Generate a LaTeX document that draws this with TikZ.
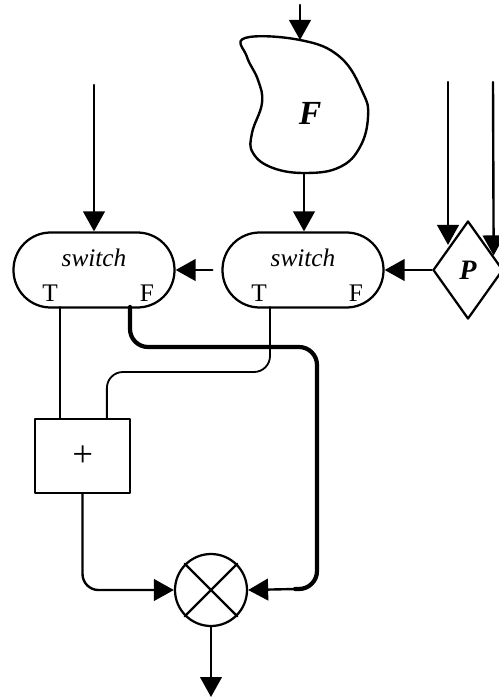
\documentclass[tikz,border=0pt]{standalone}
\usepackage{fontspec}
\setmainfont{Liberation Serif}
\usetikzlibrary{arrows.meta,shapes.geometric,calc}

\begin{document}
\begin{tikzpicture}[x=.25mm,y=-.25mm,line join=round,line cap=round,
  arr/.style={line width=1.7pt,-{Triangle[length=5mm,width=5.4mm]}},
  wire/.style={line width=1.3pt},
  fatwire/.style={line width=3pt},
  swbox/.style={draw,line width=1.6pt,minimum width=40.25mm,minimum height=18.75mm,rounded corners=9.3mm},
  swtext/.style={font=\fontsize{18}{20}\selectfont\itshape,inner sep=0pt},
  tf/.style={font=\fontsize{18}{20}\selectfont,inner sep=0pt}]
  \useasboundingbox (0,0) rectangle (498,700);
  \def\switchnode#1#2{%
    \node[swbox] (#1) at (#2,270) {};
    \node[swtext] (#1name) at (#2,258) {switch};
    \node[tf] (#1T) at (#2-44,293) {T};
    \node[tf] (#1F) at (#2+53,293) {F};
  }
  \switchnode{swA}{94}
  \switchnode{swB}{303}
  % the F block
  \draw[line width=1.7pt] plot[smooth cycle,tension=.7] coordinates {
    (245,38) (300,40) (340,57) (363,93) (368,117) (360,147) (340,167)
    (307,173) (273,168) (253,153) (252,133) (262,103) (258,80) (247,57)};
  \node[font=\fontsize{24}{26}\selectfont\bfseries\itshape] (Flabel) at (310,113) {F};
  \coordinate (Ftop) at (300,40);
  \coordinate (Fbot) at (304,173);
  \node[draw,diamond,line width=1.6pt,aspect=.7,minimum width=17.5mm,minimum height=24.5mm,
    inner sep=0pt,font=\fontsize{20}{22}\selectfont\bfseries\itshape] (P) at (468,270) {P};
  \node[draw,line width=1.3pt,minimum width=23.75mm,minimum height=18.5mm,
    font=\fontsize{26}{28}\selectfont\itshape] (plus) at (82.5,456) {+};
  \node[draw,circle,line width=1.6pt,minimum size=18mm,inner sep=0pt] (mult) at (211,590) {};
  \draw[line width=1.6pt] (mult.45) -- (mult.225) (mult.135) -- (mult.315);
  % free ends
  \coordinate (inF) at (300,5);
  \coordinate (inA) at (94,85);
  \coordinate (inP1) at (448,82);
  \coordinate (inP2) at (493,82);
  \coordinate (swAT) at (60,307);
  \coordinate (swAF) at (130,307);
  \coordinate (swBT) at (270,307);
  \coordinate (fEnd) at (295,589);
  \coordinate (out) at (211,697);
  % connectors
  \draw[arr] (inF) -- (Ftop);
  \draw[arr] (Fbot) -- (Fbot |- swB.north);
  \draw[arr] (inA) -- (swA.north);
  \draw[arr] (inP1) -- (inP1 |- P.north west);
  \draw[arr] (inP2) -- ($(P.north)!.71!(P.east)$);
  \draw[arr] (P.west) -- (swB.east);
  \draw[arr,shorten <=2.25mm] (swB.west) -- (swA.east);
  \draw[wire] (swAT) -- (swAT |- plus.north);
  \draw[wire,rounded corners=4mm] (swBT) -- ++(0,65) -| ([xshift=6.1mm]plus.north);
  \draw[fatwire,rounded corners=4.5mm] (swAF) |- (317,347) |- (fEnd);
  \draw[arr] (fEnd) -- (mult.east);
  \draw[arr,rounded corners=4mm] (plus.south) |- (mult.west);
  \draw[arr] (mult.south) -- (out);
\end{tikzpicture}
\end{document}
